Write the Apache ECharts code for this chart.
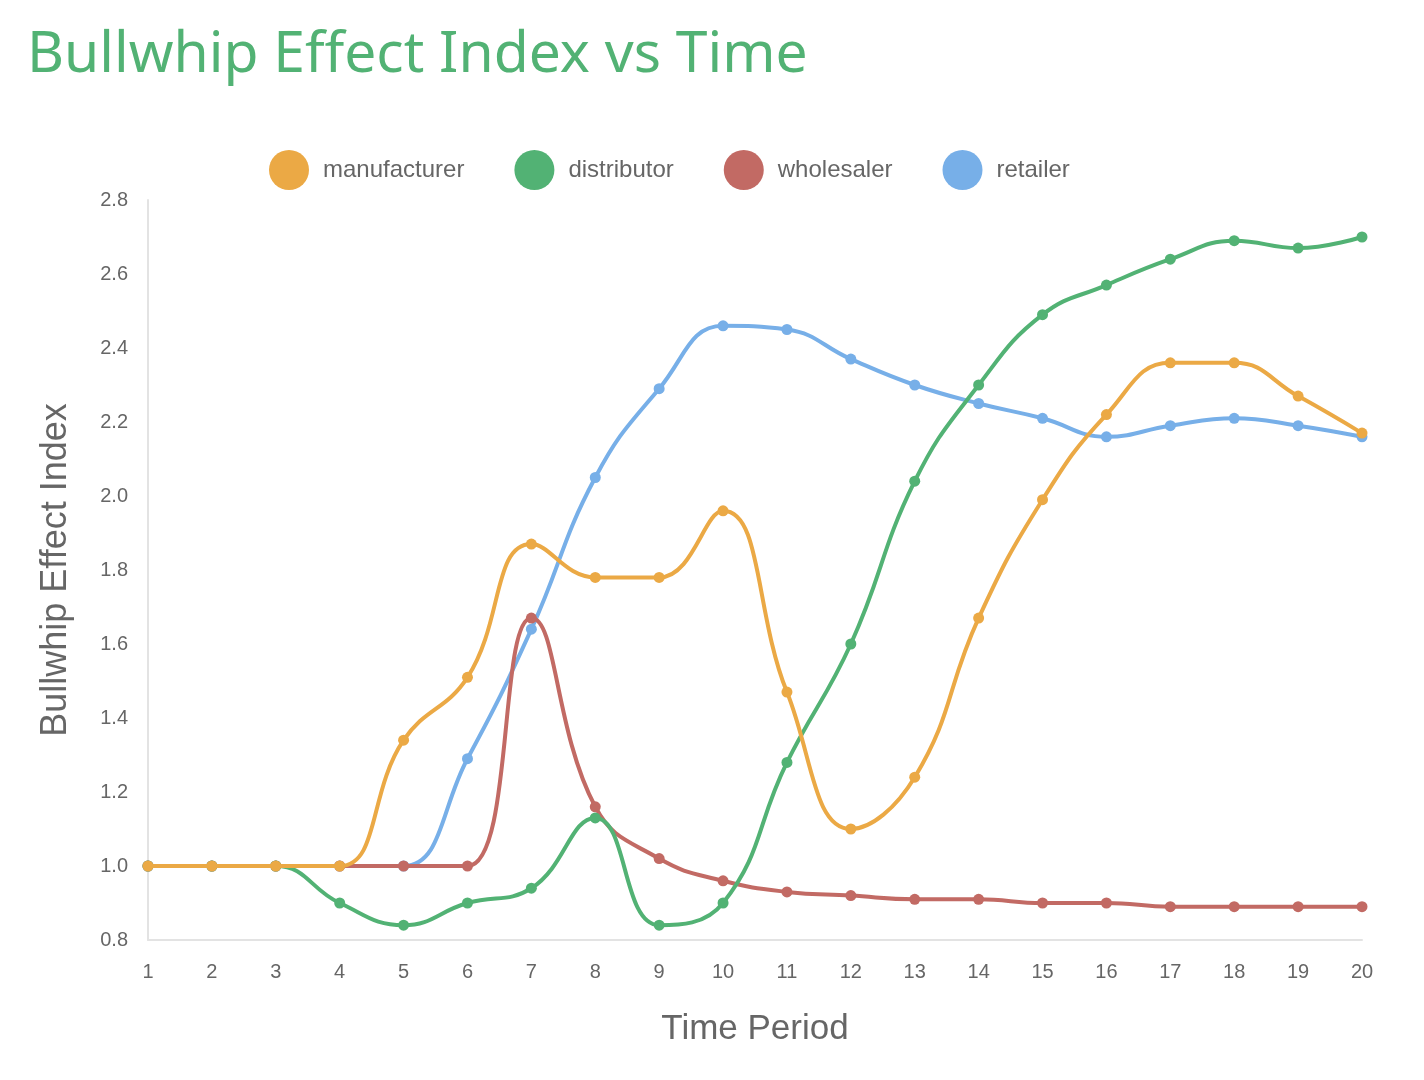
<!DOCTYPE html>
<html>
<head>
<meta charset="utf-8">
<script src="https://cdn.jsdelivr.net/npm/echarts@6/dist/echarts.min.js"></script>
<style>
  html, body { margin: 0; padding: 0; background: #fff; }
  #chart { width: 1424px; height: 1080px; }
</style>
</head>
<body>
<div id="chart"></div>
<script>
const periods = ['1','2','3','4','5','6','7','8','9','10','11','12','13','14','15','16','17','18','19','20'];
const manufacturer = [1.0, 1.0, 1.0, 1.0, 1.34, 1.51, 1.87, 1.78, 1.78, 1.96, 1.47, 1.10, 1.24, 1.67, 1.99, 2.22, 2.36, 2.36, 2.27, 2.17];
const distributor  = [1.0, 1.0, 1.0, 0.90, 0.84, 0.90, 0.94, 1.13, 0.84, 0.90, 1.28, 1.60, 2.04, 2.30, 2.49, 2.57, 2.64, 2.69, 2.67, 2.70];
const wholesaler   = [1.0, 1.0, 1.0, 1.0, 1.0, 1.0, 1.67, 1.16, 1.02, 0.96, 0.93, 0.92, 0.91, 0.91, 0.90, 0.90, 0.89, 0.89, 0.89, 0.89];
const retailer     = [1.0, 1.0, 1.0, 1.0, 1.0, 1.29, 1.64, 2.05, 2.29, 2.46, 2.45, 2.37, 2.30, 2.25, 2.21, 2.16, 2.19, 2.21, 2.19, 2.16];

const COLORS = {
  manufacturer: '#EBA945',
  distributor: '#52B274',
  wholesaler: '#C26A64',
  retailer: '#77AFE8',
};

const chart = echarts.init(document.getElementById('chart'));

function line(name, data, z) {
  return {
    name, type: 'line', data, z,
    smooth: 0.45,
    symbol: 'circle',
    symbolSize: 11,
    lineStyle: { width: 4, color: COLORS[name] },
    itemStyle: { color: COLORS[name] },
  };
}

chart.setOption({
  textStyle: { fontFamily: 'Liberation Sans, Arial, sans-serif' },
  title: {
    text: 'Bullwhip Effect Index vs Time',
    left: 22, top: 22,
    textStyle: { fontFamily: 'Noto Sans', fontSize: 57, fontWeight: 'normal', color: '#52B274' },
  },
  legend: {
    top: 145, left: 264,
    data: ['manufacturer', 'distributor', 'wholesaler', 'retailer'],
    icon: 'circle',
    itemWidth: 40, itemHeight: 40, itemGap: 50,
    textStyle: { fontSize: 24, color: '#666', padding: [0, 0, 0, 9] },
  },
  grid: { left: 148, right: 62, top: 200, bottom: 140 },
  xAxis: {
    type: 'category',
    data: periods,
    boundaryGap: false,
    name: 'Time Period',
    nameLocation: 'middle',
    nameGap: 72,
    nameTextStyle: { fontSize: 35, color: '#666' },
    axisLine: { lineStyle: { color: '#e3e3e3', width: 2 } },
    axisTick: { show: false },
    axisLabel: { fontSize: 20, color: '#666', margin: 22 },
    splitLine: { show: false },
  },
  yAxis: {
    type: 'value',
    min: 0.8, max: 2.8, interval: 0.2,
    name: 'Bullwhip Effect Index',
    nameLocation: 'middle',
    nameGap: 74,
    nameTextStyle: { fontSize: 36, color: '#666' },
    axisLine: { show: true, lineStyle: { color: '#e3e3e3', width: 2 } },
    axisTick: { show: false },
    axisLabel: { fontSize: 20, color: '#666', margin: 20, formatter: v => v.toFixed(1) },
    splitLine: { show: false },
  },
  series: [
    line('retailer', retailer, 1),
    line('wholesaler', wholesaler, 2),
    line('distributor', distributor, 3),
    line('manufacturer', manufacturer, 4),
  ],
});
</script>
</body>
</html>
